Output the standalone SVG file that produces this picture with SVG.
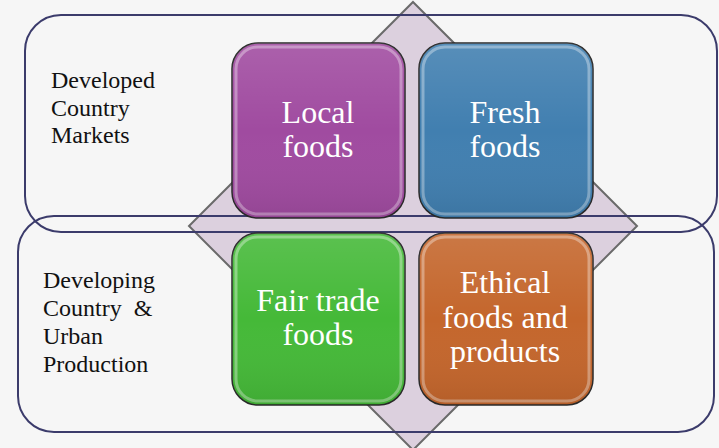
<svg xmlns="http://www.w3.org/2000/svg" width="719" height="448" viewBox="0 0 719 448">
<style>
.frame{fill:none;stroke:#3b3b6b;stroke-width:2}
.box{stroke:#2a2a2a;stroke-width:1.5}
.hl{fill:none;stroke:#ffffff;stroke-opacity:0.35;stroke-width:3}
.bt{font-family:"Liberation Serif",serif;font-size:32px;fill:#ffffff;text-anchor:middle}
.lt{font-family:"Liberation Serif",serif;font-size:24px;fill:#111111}
</style>
<defs>
<linearGradient id="sh" x1="0" y1="0" x2="0" y2="1">
<stop offset="0" stop-color="#ffffff" stop-opacity="0.12"/>
<stop offset="0.5" stop-color="#ffffff" stop-opacity="0"/>
<stop offset="1" stop-color="#000000" stop-opacity="0.08"/>
</linearGradient>
</defs>
<rect width="719" height="448" fill="#f6f6f6"/>
<g id="diamond">
<polygon points="413,2 637,226 413,450 189,226" fill="#dcd0de" stroke="#6a6a6a" stroke-width="2"/>
</g>
<g id="frames">
<rect id="developed-frame" x="25" y="15" width="692" height="217" rx="36" class="frame"/>
<rect id="developing-frame" x="18" y="216" width="696" height="216" rx="36" class="frame"/>
</g>
<g id="local">
<rect x="232" y="43" width="173" height="175" rx="26" fill="#a04ba0" class="box"/>
<rect x="236" y="47" width="165" height="167" rx="22" class="hl"/>
<rect x="232" y="43" width="173" height="175" rx="26" fill="url(#sh)"/>
<text class="bt" x="318" y="123">Local</text>
<text class="bt" x="318" y="157">foods</text>
</g>
<g id="fresh">
<rect x="419" y="43" width="174" height="175" rx="26" fill="#417fb0" class="box"/>
<rect x="423" y="47" width="166" height="167" rx="22" class="hl"/>
<rect x="419" y="43" width="174" height="175" rx="26" fill="url(#sh)"/>
<text class="bt" x="505" y="123">Fresh</text>
<text class="bt" x="505" y="157">foods</text>
</g>
<g id="fairtrade">
<rect x="232" y="233" width="173" height="172" rx="26" fill="#45b938" class="box"/>
<rect x="236" y="237" width="165" height="164" rx="22" class="hl"/>
<rect x="232" y="233" width="173" height="172" rx="26" fill="url(#sh)"/>
<text class="bt" x="318" y="311">Fair trade</text>
<text class="bt" x="318" y="345">foods</text>
</g>
<g id="ethical">
<rect x="419" y="233" width="174" height="172" rx="26" fill="#c4662c" class="box"/>
<rect x="423" y="237" width="166" height="164" rx="22" class="hl"/>
<rect x="419" y="233" width="174" height="172" rx="26" fill="url(#sh)"/>
<text class="bt" x="505" y="293">Ethical</text>
<text class="bt" x="505" y="328">foods and</text>
<text class="bt" x="505" y="362">products</text>
</g>
<g id="developed-label">
<text class="lt" x="51" y="88">Developed</text>
<text class="lt" x="51" y="116">Country</text>
<text class="lt" x="51" y="143">Markets</text>
</g>
<g id="developing-label">
<text class="lt" x="43" y="288">Developing</text>
<text class="lt" x="43" y="316" xml:space="preserve">Country  &amp;</text>
<text class="lt" x="43" y="344">Urban</text>
<text class="lt" x="43" y="372">Production</text>
</g>
</svg>
